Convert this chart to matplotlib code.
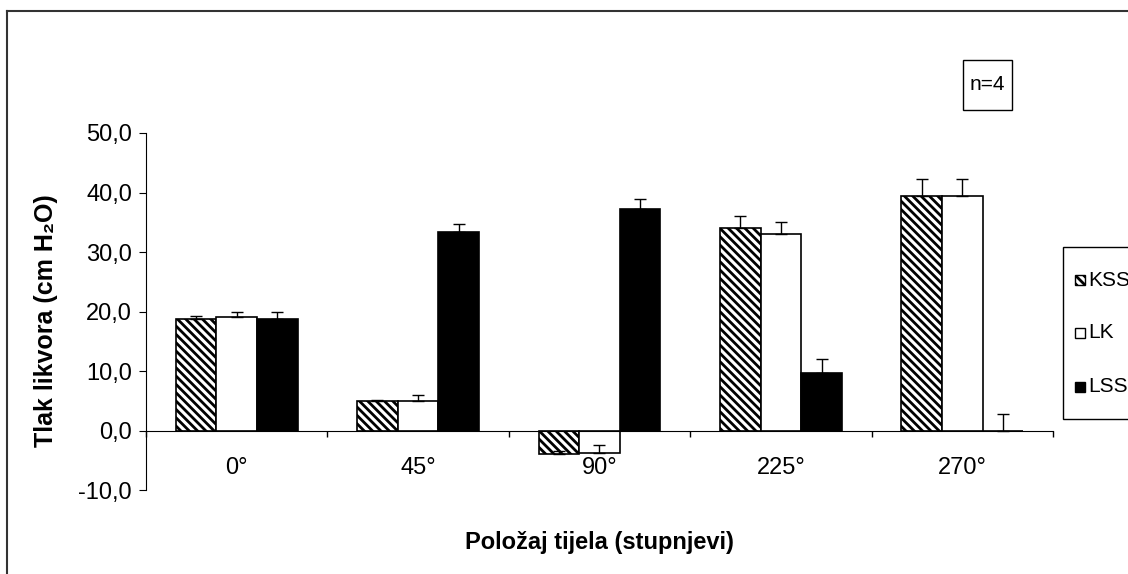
import numpy as np
import matplotlib
matplotlib.use('Agg')
from matplotlib import pyplot as plt
from matplotlib.lines import Line2D
from matplotlib.patches import Rectangle
from matplotlib.ticker import FuncFormatter

plt.rcParams['font.family'] = ['Liberation Sans', 'DejaVu Sans']
plt.rcParams['hatch.linewidth'] = 2.0

angles = ['0°', '45°', '90°', '225°', '270°']
names = ['KSS', 'LK', 'LSS']
kss = [18.7, 4.9, -3.9, 34.0, 39.4]
kss_err = [0.5, 0.3, 0.4, 2.0, 2.9]
lk = [19.0, 4.9, -3.7, 33.0, 39.4]
lk_err = [1.0, 1.0, 1.3, 2.0, 2.9]
lss = [18.7, 33.3, 37.2, 9.6, 0.0]
lss_err = [1.3, 1.4, 1.7, 2.4, 2.7]

fig = plt.figure(figsize=(11.28, 5.74), dpi=100)
ax = fig.add_axes([0.1294, 0.1463, 0.8041, 0.622])

x = np.arange(len(angles))
w = 0.224
styles = [('white', '\\\\\\\\'), ('white', None), ('black', None)]
for i, (vals, err) in enumerate([(kss, kss_err), (lk, lk_err), (lss, lss_err)]):
    fc, hatch = styles[i]
    pos = x + (i - 1) * w
    ax.bar(pos, vals, w, color=fc, edgecolor='black', hatch=hatch,
           linewidth=1.2, zorder=2)
    ax.errorbar(pos, vals, yerr=[np.zeros(len(vals)), err], fmt='none',
                ecolor='black', elinewidth=1, capsize=4.5, capthick=1, zorder=3)

ax.set_xlim(-0.5, len(angles) - 0.5)
ax.set_ylim(-10, 50)
ax.set_yticks(np.arange(-10, 51, 10))
ax.yaxis.set_major_formatter(FuncFormatter(lambda v, p: f'{v:.1f}'.replace('.', ',')))
for s in ['top', 'right']:
    ax.spines[s].set_visible(False)
ax.spines['bottom'].set_position(('data', 0))
ax.spines['bottom'].set_zorder(4)
ax.set_xticks(x)
ax.set_xticklabels(angles)
ax.set_xticks(np.arange(-0.5, len(angles), 1.0), minor=True)
ax.tick_params(axis='x', which='major', length=0, labelsize=17, pad=19)
ax.tick_params(axis='x', which='minor', direction='out', length=4, width=1)
ax.tick_params(axis='y', direction='out', length=5, labelsize=17, pad=5)

ax.set_ylabel('Tlak likvora (cm H\u2082O)', fontsize=18, fontweight='bold')
ax.yaxis.set_label_coords(-0.11, 0.475)
ax.set_xlabel('Položaj tijela (stupnjevi)', fontsize=17, fontweight='bold')
ax.xaxis.set_label_coords(0.5, -0.146)
ax.xaxis.label.set_va('center')
ax.yaxis.label.set_va('center')

# legend box, partly cut at the right edge as in the reference
W, H = 1128, 574
fig.add_artist(Rectangle((1063 / W, 1 - 419 / H), 80 / W, 172 / H,
                         transform=fig.transFigure, facecolor='white',
                         edgecolor='black', linewidth=1))
for name, (fc, hatch), ypix in zip(names, styles, [280, 333, 387]):
    fig.add_artist(Rectangle((1075 / W, 1 - (ypix + 5) / H), 10 / W, 10 / H,
                             transform=fig.transFigure, facecolor=fc,
                             edgecolor='black', hatch=hatch, linewidth=1))
    fig.text(1088 / W, 1 - ypix / H, name, fontsize=15, ha='left', va='center')

fig.add_artist(Rectangle((963 / W, 1 - 110 / H), 49 / W, 50 / H,
                         transform=fig.transFigure, facecolor='white',
                         edgecolor='black', linewidth=1))
fig.text(987.5 / W, 1 - 85 / H, 'n=4', fontsize=15, ha='center', va='center')

fig.add_artist(Line2D([7 / W, 1], [1 - 11 / H, 1 - 11 / H], color='#333333', linewidth=1.5))
fig.add_artist(Line2D([7 / W, 7 / W], [0, 1 - 11 / H], color='#333333', linewidth=1.5))

fig.savefig('out.png', dpi=100)
